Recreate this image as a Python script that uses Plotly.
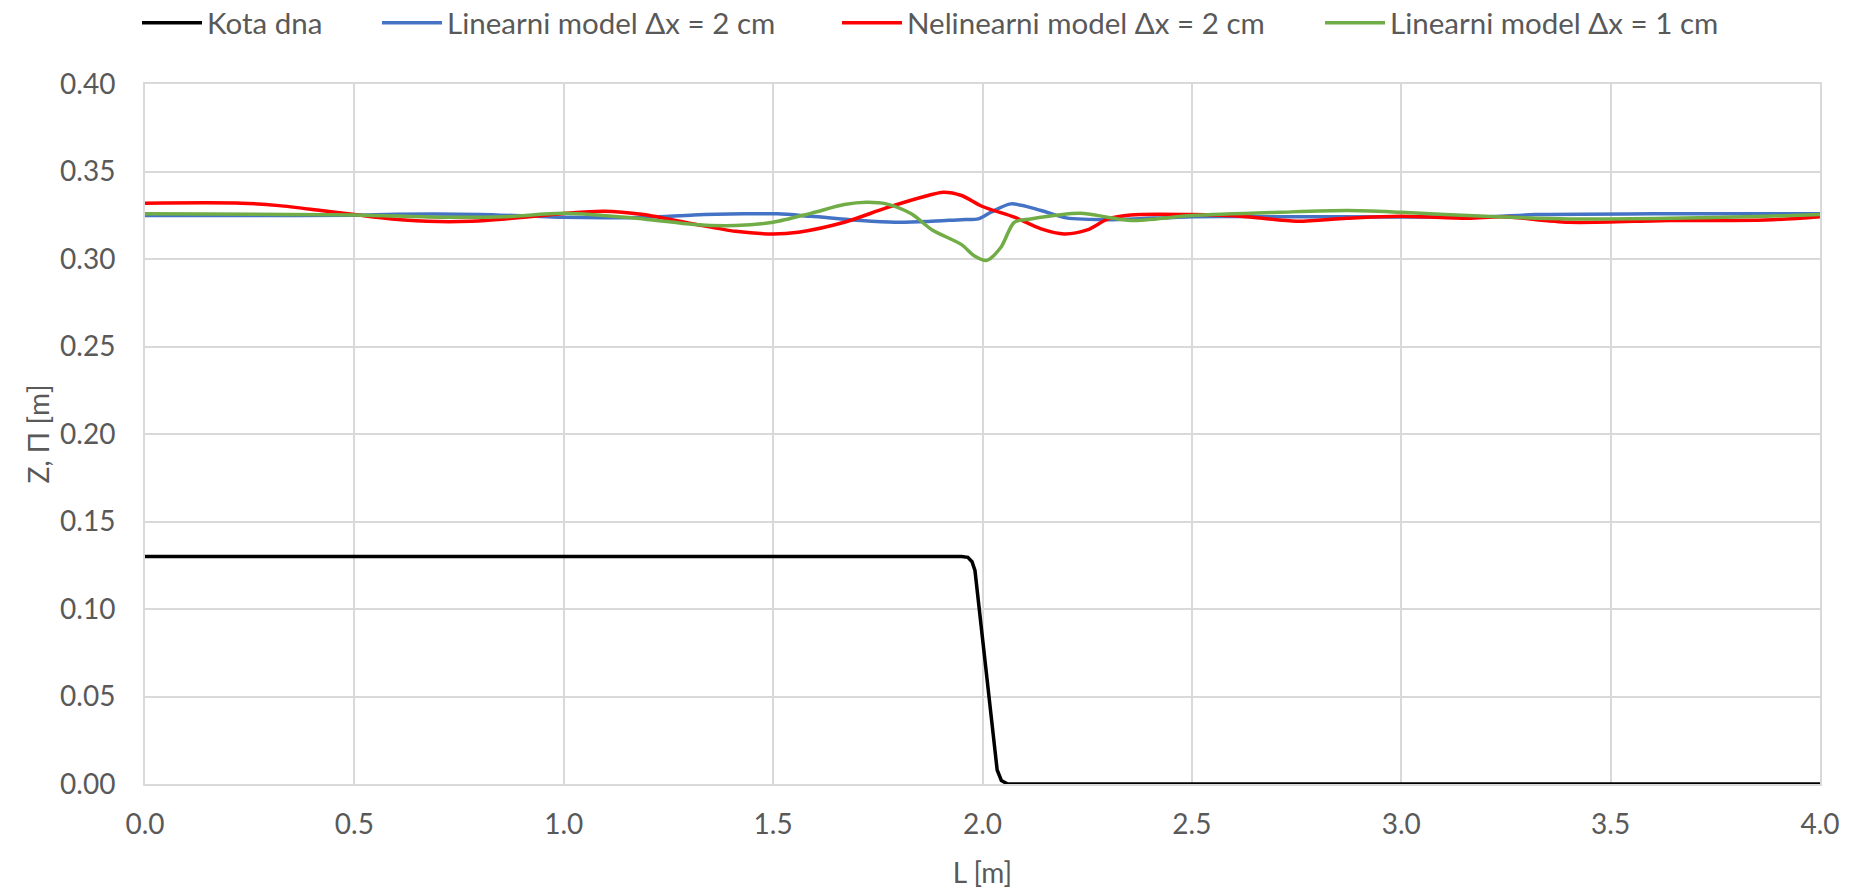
import plotly.graph_objects as go

# ---- data ----
bed_x = [0.0, 1.95, 1.965, 1.975, 1.982, 2.035, 2.045, 2.06, 4.0]
bed_y = [0.13, 0.13, 0.1295, 0.127, 0.122, 0.008, 0.002, 0.0, 0.0]

lin2_x = [0.0, 0.25, 0.5, 0.6, 0.8, 1.0, 1.2, 1.31, 1.43, 1.51, 1.59, 1.71, 1.79, 1.87, 1.95,
          1.99, 2.02, 2.068, 2.14, 2.2, 2.31, 2.5, 2.7, 3.0, 3.2, 3.32, 3.6, 4.0]
lin2_y = [0.3248, 0.3248, 0.3250, 0.3256, 0.3255, 0.3238, 0.3239, 0.3252, 0.3258, 0.3258, 0.3244,
          0.3220, 0.3210, 0.3214, 0.3225, 0.3229, 0.3267, 0.3315, 0.3277, 0.3235, 0.3225, 0.3242,
          0.3242, 0.3240, 0.3240, 0.3254, 0.3258, 0.3258]

nelin2_x = [0.0, 0.23, 0.32, 0.42, 0.5, 0.59, 0.7, 0.78, 0.86, 1.0, 1.095, 1.19, 1.31, 1.41, 1.5,
            1.56, 1.67, 1.77, 1.87, 1.906, 1.95, 2.0, 2.076, 2.14, 2.195, 2.25, 2.3, 2.354, 2.5,
            2.63, 2.75, 2.87, 3.0, 3.16, 3.24, 3.4, 3.64, 3.87, 4.0]
nelin2_y = [0.3319, 0.3319, 0.3305, 0.3277, 0.3254, 0.3229, 0.3214, 0.3216, 0.3229, 0.3260, 0.3273,
            0.3254, 0.3200, 0.3158, 0.3143, 0.3153, 0.3210, 0.3292, 0.3363, 0.3382, 0.3363, 0.3300,
            0.3239, 0.3172, 0.3143, 0.3166, 0.3229, 0.3252, 0.3254, 0.3242, 0.3216, 0.3233, 0.3244,
            0.3233, 0.3242, 0.3210, 0.3220, 0.3223, 0.3242]

lin1_x = [0.0, 0.5, 0.7, 0.86, 1.0, 1.19, 1.31, 1.41, 1.5, 1.59, 1.67, 1.723, 1.77, 1.83, 1.88,
          1.95, 1.98, 2.01, 2.044, 2.076, 2.115, 2.234, 2.298, 2.354, 2.5, 2.71, 2.87, 3.0, 3.2,
          3.4, 3.64, 3.87, 4.0]
lin1_y = [0.3258, 0.3252, 0.3239, 0.3242, 0.3261, 0.3229, 0.3197, 0.3191, 0.3210, 0.3261, 0.3311,
          0.3324, 0.3315, 0.3258, 0.3166, 0.3082, 0.3019, 0.2992, 0.3067, 0.3210, 0.3229, 0.3261,
          0.3239, 0.3220, 0.3248, 0.3267, 0.3277, 0.3267, 0.3244, 0.3229, 0.3233, 0.3244, 0.3254]

names = ["Kota dna", "Linearni model \u0394x = 2 cm", "Nelinearni model \u0394x = 2 cm",
         "Linearni model \u0394x = 1 cm"]
colors = ["#000000", "#4472C4", "#FF0000", "#70AD47"]

x_ticks = [0.0, 0.5, 1.0, 1.5, 2.0, 2.5, 3.0, 3.5, 4.0]
y_ticks = [0.0, 0.05, 0.10, 0.15, 0.20, 0.25, 0.30, 0.35, 0.40]

FONT = "Lato"
TXT = "#595959"
GRID = "#D9D9D9"

fig = go.Figure()
series = [(bed_x, bed_y, "linear"), (lin2_x, lin2_y, "spline"),
          (nelin2_x, nelin2_y, "spline"), (lin1_x, lin1_y, "spline")]
legend_ids = ["legend", "legend2", "legend3", "legend4"]
for i, (xs, ys, shp) in enumerate(series):
    fig.add_trace(go.Scatter(x=xs, y=ys, mode="lines", name=names[i], showlegend=True,
                             line=dict(color=colors[i], width=3.5, shape=shp, smoothing=0.8),
                             legend=legend_ids[i]))

L, R, T, B = 145, 32, 84, 105
W, H = 1852, 889
pw = W - L - R
ph = H - T - B

def px2paper_x(px):
    return (px - L) / pw

def py2paper_y(py):
    return (H - B - py) / ph

sym_starts = [142, 382, 842, 1325]
leg_common = dict(orientation="h", yanchor="middle", xanchor="left",
                  font=dict(family=FONT, size=29.5, color=TXT), itemwidth=60,
                  bgcolor="rgba(0,0,0,0)", borderwidth=0)
legends = {}
for i, lid in enumerate(legend_ids):
    legends[lid] = dict(x=px2paper_x(sym_starts[i] - 5), y=py2paper_y(23), **leg_common)

fig.update_layout(
    width=W, height=H,
    showlegend=True,
    margin=dict(l=L, r=R, t=T, b=B, autoexpand=False),
    paper_bgcolor="white", plot_bgcolor="white",
    font=dict(family=FONT, size=28, color=TXT),
    **legends,
    xaxis=dict(range=[0, 4], tickvals=x_ticks, ticktext=[f"{v:.1f}" for v in x_ticks],
               showgrid=True, gridcolor=GRID, gridwidth=2,
               showline=True, linecolor=GRID, linewidth=2, mirror=True,
               zeroline=False, ticks="", ticklabelstandoff=14,
               tickfont=dict(family=FONT, size=28, color=TXT),
               title=dict(text="L [m]", font=dict(family=FONT, size=28, color=TXT), standoff=26)),
    yaxis=dict(range=[0, 0.40], tickvals=y_ticks, ticktext=[f"{v:.2f}" for v in y_ticks],
               showgrid=True, gridcolor=GRID, gridwidth=2,
               showline=True, linecolor=GRID, linewidth=2, mirror=True,
               zeroline=False, ticks="", ticklabelstandoff=22,
               tickfont=dict(family=FONT, size=28, color=TXT),
               title=dict(text="Z, \u03a0 [m]", font=dict(family=FONT, size=28, color=TXT), standoff=2)),
)

fig.write_html("out.html")
